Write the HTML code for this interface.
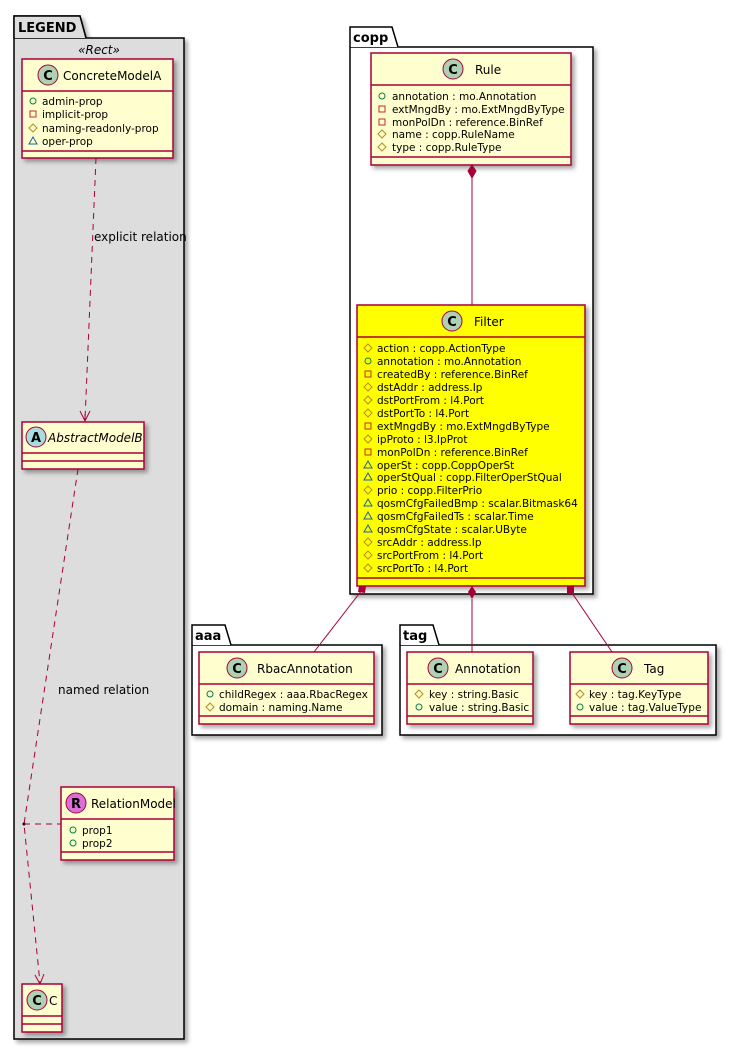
<!DOCTYPE html>
<html><head><meta charset="utf-8"><style>
html,body{margin:0;padding:0;background:#fff;}
svg{display:block;font-family:"DejaVu Sans","Liberation Sans",sans-serif;}
.t{font-size:10.5px;fill:#000;}
.n{font-size:12px;fill:#000;}
.box{fill:#FEFECE;stroke:#A80036;stroke-width:1.5;}
.sep{stroke:#A80036;stroke-width:1.5;}
.pk{fill:#fff;stroke:#000;stroke-width:1.5;}
.lk{stroke:#A80036;stroke-width:1;fill:none;}
</style></head><body>
<svg width="736" height="1051" viewBox="0 0 736 1051" xmlns="http://www.w3.org/2000/svg">
<defs>
<filter id="sh" x="-10%" y="-10%" width="130%" height="130%"><feDropShadow dx="3" dy="3" stdDeviation="2" flood-color="#000" flood-opacity="0.35"/></filter>
<g id="pub"><circle cx="0" cy="0" r="3" fill="none" stroke="#038048" stroke-width="1"/></g>
<g id="pri"><rect x="-3" y="-3" width="6" height="6" fill="none" stroke="#C82930" stroke-width="1"/></g>
<g id="pro"><path d="M0,-4 L4,0 L0,4 L-4,0 Z" fill="none" stroke="#B38D22" stroke-width="1"/></g>
<g id="pkg"><path d="M0,-4 L4,3 L-4,3 Z" fill="none" stroke="#1963A0" stroke-width="1"/></g>
</defs>

<!-- LEGEND package -->
<path d="M14,38 L14,16 L80,16 L86,38" fill="#DDDDDD" stroke="#000" stroke-width="1.5" filter="url(#sh)"/>
<rect x="14" y="38" width="170" height="1001" fill="#DDDDDD" stroke="#000" stroke-width="1.5" filter="url(#sh)"/>
<path d="M14,38 L14,16 L80,16 L86,38" fill="#DDDDDD" stroke="#000" stroke-width="1.5"/>
<text x="18" y="32" font-size="13" font-weight="bold">LEGEND</text>
<text x="99" y="54" font-size="12" font-style="italic" text-anchor="middle">«Rect»</text>

<!-- ConcreteModelA -->
<rect class="box" x="22" y="59" width="151" height="99" filter="url(#sh)"/>
<line class="sep" x1="22" y1="91" x2="173" y2="91"/><line class="sep" x1="22" y1="151" x2="173" y2="151"/>
<circle cx="48" cy="75" r="10" fill="#ADD1B2" stroke="#A80036"/><text x="48" y="80" font-size="13" font-weight="bold" text-anchor="middle">C</text>
<text class="n" x="63" y="80">ConcreteModelA</text>
<use href="#pub" x="33" y="101"/><text class="t" x="42" y="105">admin-prop</text>
<use href="#pri" x="33" y="114"/><text class="t" x="42" y="118">implicit-prop</text>
<use href="#pro" x="33" y="128"/><text class="t" x="42" y="132">naming-readonly-prop</text>
<use href="#pkg" x="33" y="141"/><text class="t" x="42" y="145">oper-prop</text>

<!-- explicit relation -->
<path class="lk" d="M96,158 L85,420" stroke-dasharray="6,5"/>
<path class="lk" d="M80,411 L85,421 L90,411 M85,421 L85,414" />
<text x="94" y="241" font-size="12">explicit relation</text>

<!-- AbstractModelB -->
<rect class="box" x="22" y="422" width="122" height="47" filter="url(#sh)"/>
<line class="sep" x1="22" y1="453" x2="144" y2="453"/><line class="sep" x1="22" y1="461" x2="144" y2="461"/>
<circle cx="36" cy="437" r="10" fill="#A9DCDF" stroke="#A80036"/><text x="36" y="442" font-size="13" font-weight="bold" text-anchor="middle">A</text>
<text class="n" x="48" y="442" font-style="italic">AbstractModelB</text>

<!-- named relation -->
<path class="lk" d="M78,469 L24,824 L40,983" stroke-dasharray="6,5"/>
<path class="lk" d="M35,975 L40,984 L44,974"/>
<circle cx="24" cy="824" r="1.5" fill="#000"/>
<path class="lk" d="M24,824 L61,824" stroke-dasharray="6,5"/>
<text x="58" y="694" font-size="12">named relation</text>

<!-- RelationModel -->
<rect class="box" x="61" y="787" width="113" height="73" filter="url(#sh)"/>
<line class="sep" x1="61" y1="819" x2="174" y2="819"/><line class="sep" x1="61" y1="852" x2="174" y2="852"/>
<circle cx="76" cy="803" r="10" fill="#DA70D6" stroke="#A80036"/><text x="76" y="808" font-size="13" font-weight="bold" text-anchor="middle">R</text>
<text class="n" x="91" y="808">RelationModel</text>
<use href="#pub" x="73" y="830"/><text class="t" x="82" y="834">prop1</text>
<use href="#pub" x="73" y="843"/><text class="t" x="82" y="847">prop2</text>

<!-- C -->
<rect class="box" x="22" y="984" width="40" height="48" filter="url(#sh)"/>
<line class="sep" x1="22" y1="1016" x2="62" y2="1016"/><line class="sep" x1="22" y1="1024" x2="62" y2="1024"/>
<circle cx="37" cy="1000" r="10" fill="#ADD1B2" stroke="#A80036"/><text x="37" y="1005" font-size="13" font-weight="bold" text-anchor="middle">C</text>
<text class="n" x="49" y="1005">C</text>

<!-- copp package -->
<rect class="pk" x="350" y="47" width="243" height="547" filter="url(#sh)"/>
<path d="M350,47 L350,27 L392,27 L398,47" fill="#fff" stroke="#000" stroke-width="1.5"/>
<text x="353" y="42" font-size="13" font-weight="bold">copp</text>

<!-- Rule -->
<rect class="box" x="371" y="53" width="200" height="112" filter="url(#sh)"/>
<line class="sep" x1="371" y1="85" x2="571" y2="85"/><line class="sep" x1="371" y1="157" x2="571" y2="157"/>
<circle cx="453" cy="69" r="10" fill="#ADD1B2" stroke="#A80036"/><text x="453" y="74" font-size="13" font-weight="bold" text-anchor="middle">C</text>
<text class="n" x="475" y="74">Rule</text>
<use href="#pub" x="382" y="96"/><text class="t" x="392" y="100">annotation : mo.Annotation</text>
<use href="#pri" x="382" y="109"/><text class="t" x="392" y="113">extMngdBy : mo.ExtMngdByType</text>
<use href="#pri" x="382" y="122"/><text class="t" x="392" y="126">monPolDn : reference.BinRef</text>
<use href="#pro" x="382" y="134"/><text class="t" x="392" y="138">name : copp.RuleName</text>
<use href="#pro" x="382" y="147"/><text class="t" x="392" y="151">type : copp.RuleType</text>
<path d="M472,165 L476,171 L472,178 L468,171 Z" fill="#A80036" stroke="#A80036"/>
<line class="lk" x1="472" y1="178" x2="472" y2="305"/>

<!-- Filter -->
<rect x="357" y="305" width="228" height="281" fill="#FFFF00" stroke="#A80036" stroke-width="1.5" filter="url(#sh)"/>
<line class="sep" x1="357" y1="337" x2="585" y2="337"/><line class="sep" x1="357" y1="578" x2="585" y2="578"/>
<circle cx="452" cy="321" r="10" fill="#ADD1B2" stroke="#A80036"/><text x="452" y="326" font-size="13" font-weight="bold" text-anchor="middle">C</text>
<text class="n" x="474" y="326">Filter</text>
<use href="#pro" x="368" y="348"/><text class="t" x="377" y="352">action : copp.ActionType</text>
<use href="#pub" x="368" y="361"/><text class="t" x="377" y="365">annotation : mo.Annotation</text>
<use href="#pri" x="368" y="374"/><text class="t" x="377" y="378">createdBy : reference.BinRef</text>
<use href="#pro" x="368" y="387"/><text class="t" x="377" y="391">dstAddr : address.Ip</text>
<use href="#pro" x="368" y="400"/><text class="t" x="377" y="404">dstPortFrom : l4.Port</text>
<use href="#pro" x="368" y="413"/><text class="t" x="377" y="417">dstPortTo : l4.Port</text>
<use href="#pri" x="368" y="426"/><text class="t" x="377" y="430">extMngdBy : mo.ExtMngdByType</text>
<use href="#pro" x="368" y="439"/><text class="t" x="377" y="443">ipProto : l3.IpProt</text>
<use href="#pri" x="368" y="452"/><text class="t" x="377" y="456">monPolDn : reference.BinRef</text>
<use href="#pkg" x="368" y="465"/><text class="t" x="377" y="469">operSt : copp.CoppOperSt</text>
<use href="#pkg" x="368" y="477"/><text class="t" x="377" y="481">operStQual : copp.FilterOperStQual</text>
<use href="#pro" x="368" y="490"/><text class="t" x="377" y="494">prio : copp.FilterPrio</text>
<use href="#pkg" x="368" y="503"/><text class="t" x="377" y="507">qosmCfgFailedBmp : scalar.Bitmask64</text>
<use href="#pkg" x="368" y="516"/><text class="t" x="377" y="520">qosmCfgFailedTs : scalar.Time</text>
<use href="#pkg" x="368" y="529"/><text class="t" x="377" y="533">qosmCfgState : scalar.UByte</text>
<use href="#pro" x="368" y="542"/><text class="t" x="377" y="546">srcAddr : address.Ip</text>
<use href="#pro" x="368" y="555"/><text class="t" x="377" y="559">srcPortFrom : l4.Port</text>
<use href="#pro" x="368" y="568"/><text class="t" x="377" y="572">srcPortTo : l4.Port</text>

<!-- aaa package -->
<rect class="pk" x="192" y="645" width="190" height="90" filter="url(#sh)"/>
<path d="M192,645 L192,625 L225,625 L231,645" fill="#fff" stroke="#000" stroke-width="1.5"/>
<text x="195" y="640" font-size="13" font-weight="bold">aaa</text>
<!-- tag package -->
<rect class="pk" x="400" y="645" width="316" height="90" filter="url(#sh)"/>
<path d="M400,645 L400,625 L433,625 L439,645" fill="#fff" stroke="#000" stroke-width="1.5"/>
<text x="403" y="640" font-size="13" font-weight="bold">tag</text>

<!-- connectors from Filter -->
<line class="lk" x1="362" y1="590" x2="314" y2="652"/>
<path d="M359,586 L366,586 L365,593 L358,592 Z" fill="#A80036"/>
<line class="lk" x1="472" y1="599" x2="472" y2="652"/>
<path d="M472,586 L476,592 L472,599 L468,592 Z" fill="#A80036"/>
<line class="lk" x1="570" y1="590" x2="612" y2="652"/>
<path d="M567,586 L574,586 L574,593 L567,593 Z" fill="#A80036"/>

<!-- RbacAnnotation -->
<rect class="box" x="199" y="652" width="175" height="72" filter="url(#sh)"/>
<line class="sep" x1="199" y1="684" x2="374" y2="684"/><line class="sep" x1="199" y1="716" x2="374" y2="716"/>
<circle cx="237" cy="668" r="10" fill="#ADD1B2" stroke="#A80036"/><text x="237" y="673" font-size="13" font-weight="bold" text-anchor="middle">C</text>
<text class="n" x="257" y="673">RbacAnnotation</text>
<use href="#pub" x="210" y="694"/><text class="t" x="219" y="698">childRegex : aaa.RbacRegex</text>
<use href="#pro" x="210" y="707"/><text class="t" x="219" y="711">domain : naming.Name</text>

<!-- Annotation -->
<rect class="box" x="407" y="652" width="126" height="72" filter="url(#sh)"/>
<line class="sep" x1="407" y1="684" x2="533" y2="684"/><line class="sep" x1="407" y1="716" x2="533" y2="716"/>
<circle cx="438" cy="668" r="10" fill="#ADD1B2" stroke="#A80036"/><text x="438" y="673" font-size="13" font-weight="bold" text-anchor="middle">C</text>
<text class="n" x="455" y="673">Annotation</text>
<use href="#pro" x="419" y="694"/><text class="t" x="429" y="698">key : string.Basic</text>
<use href="#pub" x="419" y="707"/><text class="t" x="429" y="711">value : string.Basic</text>

<!-- Tag -->
<rect class="box" x="570" y="652" width="138" height="72" filter="url(#sh)"/>
<line class="sep" x1="570" y1="684" x2="708" y2="684"/><line class="sep" x1="570" y1="716" x2="708" y2="716"/>
<circle cx="622" cy="668" r="10" fill="#ADD1B2" stroke="#A80036"/><text x="622" y="673" font-size="13" font-weight="bold" text-anchor="middle">C</text>
<text class="n" x="644" y="673">Tag</text>
<use href="#pro" x="580" y="694"/><text class="t" x="589" y="698">key : tag.KeyType</text>
<use href="#pub" x="580" y="707"/><text class="t" x="589" y="711">value : tag.ValueType</text>
</svg>
</body></html>
